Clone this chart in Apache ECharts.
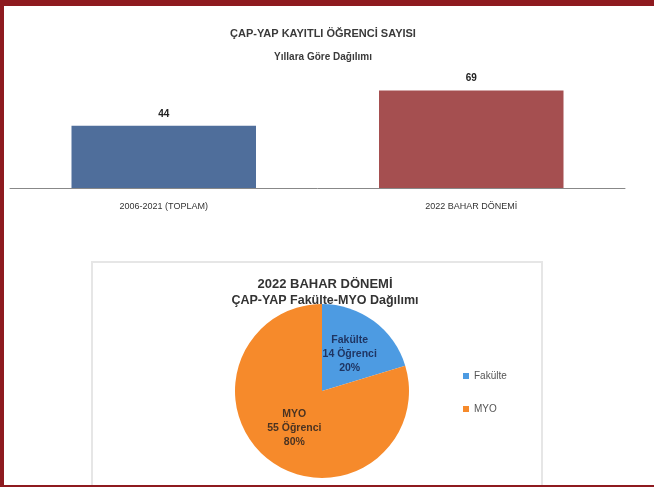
<!DOCTYPE html>
<html>
<head>
<meta charset="utf-8">
<script src="https://cdn.jsdelivr.net/npm/echarts@6/dist/echarts.min.js"></script>
<style>
  html, body { margin: 0; padding: 0; background: #fff; }
  #container { width: 654px; height: 487px; }
</style>
</head>
<body>
<div id="container"></div>
<script>
// bar chart data
var barCategories = ['2006-2021 (TOPLAM)', '2022 BAHAR DÖNEMİ'];
var barValues = [44, 69];
var barColors = ['#4f6e9b', '#a54f50'];

// pie chart data
var pieNames = ['Fakülte', 'MYO'];
var pieValues = [14, 55];
var pieColors = ['#4d9be2', '#f68a2b'];
var pieLabelColors = ['#1f3563', '#4a3322'];

var font = 'Liberation Sans';

var myChart = echarts.init(document.getElementById('container'));

var barData = [];
for (var i = 0; i < barValues.length; i++) {
    barData.push({ value: barValues[i], itemStyle: { color: barColors[i] } });
}
var pieData = [];
for (var j = 0; j < pieValues.length; j++) {
    pieData.push({
        name: pieNames[j],
        value: pieValues[j],
        itemStyle: { color: pieColors[j] },
        label: { color: pieLabelColors[j] }
    });
}

var option = {
    backgroundColor: '#fff',
    animation: false,
    textStyle: { fontFamily: font },
    title: [
        {
            text: 'ÇAP-YAP KAYITLI ÖĞRENCİ SAYISI',
            subtext: 'Yıllara Göre Dağılımı',
            left: 318, top: 23, textAlign: 'center',
            itemGap: 13,
            textStyle: { fontSize: 11, fontWeight: 'bold', color: '#3a3a3a' },
            subtextStyle: { fontSize: 10, fontWeight: 'bold', color: '#3a3a3a' }
        },
        {
            text: '2022 BAHAR DÖNEMİ',
            subtext: 'ÇAP-YAP Fakülte-MYO Dağılımı',
            left: 320, top: 273, textAlign: 'center',
            itemGap: 3,
            textStyle: { fontSize: 13, fontWeight: 'bold', color: '#333' },
            subtextStyle: { fontSize: 12.5, fontWeight: 'bold', color: '#333' }
        }
    ],
    // frame and pie box
    graphic: [
        { type: 'rect', shape: { x: 92, y: 262, width: 450, height: 240 },
          style: { fill: 'none', stroke: '#e6e6e6', lineWidth: 2 }, z: -1 },
        { type: 'rect', shape: { x: 0, y: 0, width: 654, height: 6 }, style: { fill: '#8e1a1f' } },
        { type: 'rect', shape: { x: 0, y: 0, width: 4, height: 487 }, style: { fill: '#8e1a1f' } },
        { type: 'rect', shape: { x: 0, y: 485, width: 654, height: 2 }, style: { fill: '#8e1a1f' } }
    ],
    legend: {
        orient: 'vertical',
        left: 458, top: 366,
        itemWidth: 6, itemHeight: 6, itemGap: 23,
        icon: 'rect',
        data: pieNames,
        textStyle: { fontSize: 10, color: '#555' }
    },
    grid: { left: 10, right: 29, top: 75, bottom: 299 },
    xAxis: {
        type: 'category',
        data: barCategories,
        axisLine: { lineStyle: { color: '#888', width: 1 } },
        axisTick: { show: false },
        axisLabel: { fontSize: 9, color: '#333', margin: 14 }
    },
    yAxis: {
        type: 'value', min: 0, max: 80,
        show: false,
        splitLine: { show: false }
    },
    series: [
        {
            type: 'bar',
            data: barData,
            barWidth: '60%',
            label: { show: true, position: 'top', distance: 7, fontSize: 10,
                     fontWeight: 'bold', color: '#222' }
        },
        {
            type: 'pie',
            center: [322, 391],
            radius: 87,
            startAngle: 90,
            clockwise: true,
            data: pieData,
            label: {
                show: true,
                position: 'inside',
                fontSize: 10.5,
                fontWeight: 'bold',
                lineHeight: 14,
                formatter: function (p) {
                    return p.name + '\n' + p.value + ' Öğrenci\n' + Math.round(p.percent) + '%';
                }
            },
            labelLine: { show: false },
            itemStyle: { borderWidth: 0 }
        }
    ]
};
myChart.setOption(option);
</script>
</body>
</html>
